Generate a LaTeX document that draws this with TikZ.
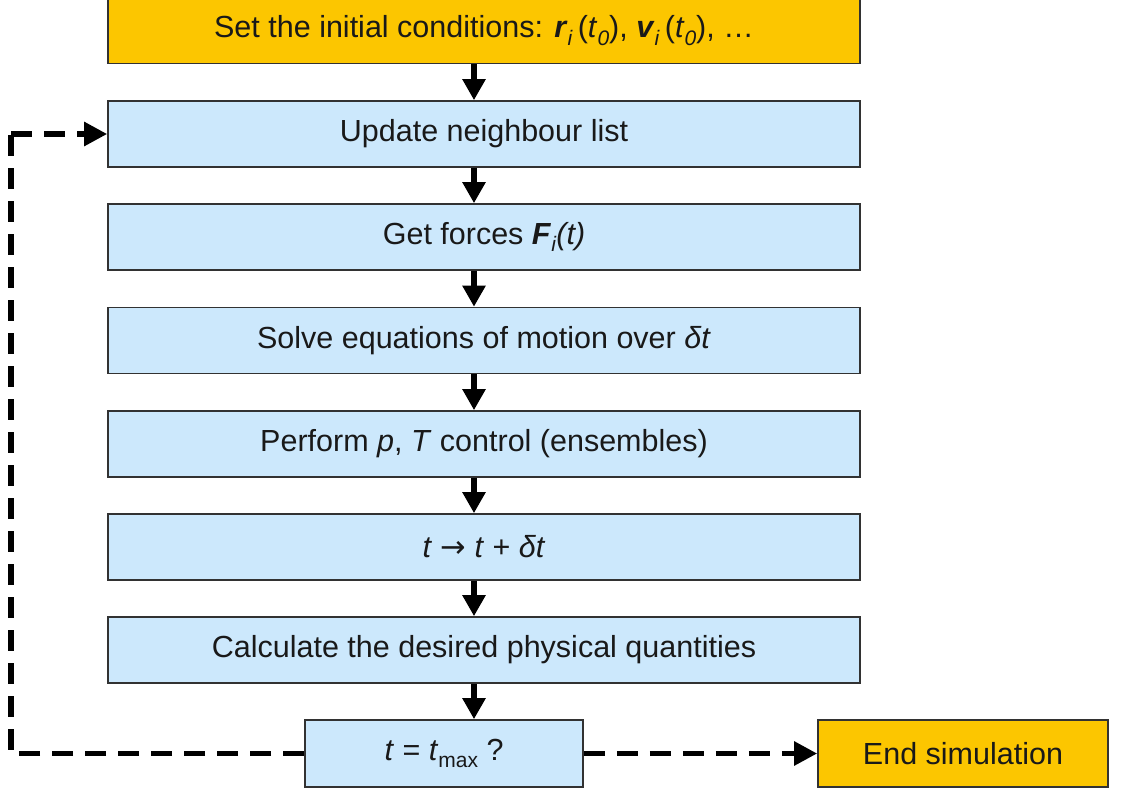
\documentclass[tikz,border=0pt]{standalone}
\usepackage{fontspec}
\setmainfont{Liberation Sans}
\newfontfamily\symfont{DejaVu Sans}
\usetikzlibrary{arrows.meta,calc}
\definecolor{stepblue}{RGB}{204,232,252}
\definecolor{stepgold}{RGB}{252,198,0}
\definecolor{edgegray}{RGB}{50,50,50}
\newcommand{\lowsub}[1]{\raisebox{-0.45ex}{\fontsize{21}{24}\selectfont #1}}
\tikzset{
  flowbox/.style={draw=edgegray, line width=1.6pt, fill=stepblue, minimum width=752pt,
    minimum height=66pt, inner sep=0pt, font=\fontsize{30.5}{36}\selectfont, text=black!90},
  goldbox/.style={flowbox, fill=stepgold},
  arr/.style={line width=6pt, -{Triangle[width=22pt,length=21pt]}},
  darr/.style={line width=5.5pt, dash pattern=on 21pt off 12pt, -{Triangle[width=23pt,length=23pt]}},
  dline/.style={line width=5.5pt, dash pattern=on 21pt off 12pt}
}
\begin{document}
\begin{tikzpicture}[x=1pt,y=-1pt]
\useasboundingbox (0,0) rectangle (1128,793);
\node[goldbox] (init) at (484,30.5) {Set the initial conditions: \textbf{\textit{r}}\lowsub{\textit{i}}\,(\textit{t}\lowsub{\textit{0}}), \textbf{\textit{v}}\lowsub{\textit{i}}\,(\textit{t}\lowsub{\textit{0}}), \dots};
\node[flowbox] (nbr) at (484,134) {Update neighbour list};
\node[flowbox] (force) at (484,237) {Get forces \textbf{\textit{F}}\lowsub{\textit{i}}\textit{(t)}};
\node[flowbox] (solve) at (484,340.5) {Solve equations of motion over \textit{δt}};
\node[flowbox] (ctrl) at (484,444) {Perform \textit{p}, \textit{T} control (ensembles)};
\node[flowbox] (adv) at (484,547) {\textit{t} {\symfont →} \textit{t} + \textit{δt}};
\node[flowbox] (calc) at (484,650) {Calculate the desired physical quantities};
\node[flowbox, minimum width=278pt, minimum height=67pt] (test) at (444,753.5) {\textit{t} = \textit{t}\lowsub{max} ?};
\node[goldbox, minimum width=290pt, minimum height=67pt] (end) at (963,753.5) {End simulation};

\foreach \a/\b in {init/nbr, nbr/force, force/solve, solve/ctrl, ctrl/adv, adv/calc}
  \draw[arr] ([xshift=-10pt]\a.south) -- ([xshift=-10pt]\b.north);
\draw[arr] (calc.south -| 474,0) -- (test.north -| 474,0);

\coordinate (lowleft) at (11,753.5);
\coordinate (upleft) at (11,134);
\draw[dline] (test.west) -- (lowleft) -- (upleft);
\draw[darr] (upleft) -- (nbr.west);
\draw[darr] (test.east) -- (end.west);
\end{tikzpicture}
\end{document}
